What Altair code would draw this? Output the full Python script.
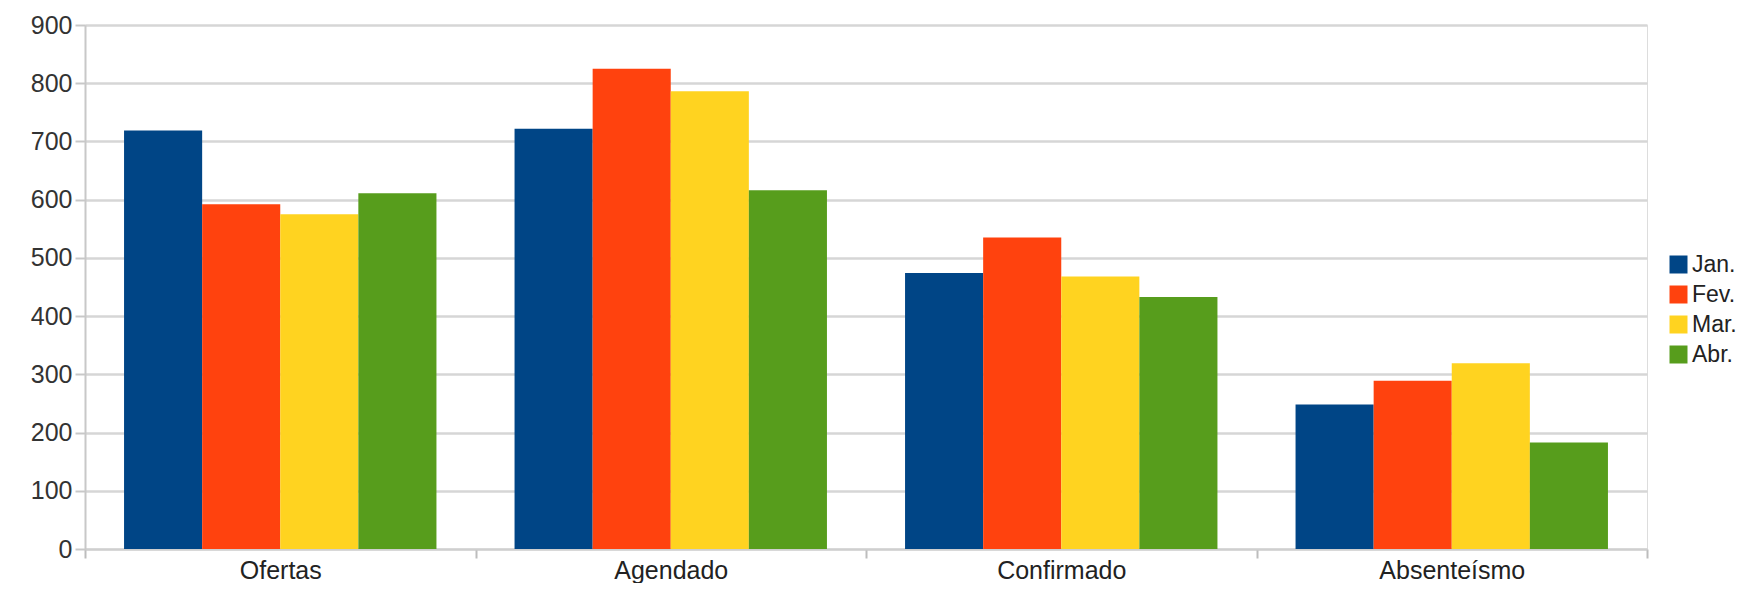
import altair as alt
import pandas as pd

categories = ["Ofertas", "Agendado", "Confirmado", "Absenteísmo"]
months = ["Jan.", "Fev.", "Mar.", "Abr."]
colors = ["#004586", "#ff420e", "#ffd320", "#579d1c"]

jan = [719, 722, 474, 248]
fev = [592, 825, 535, 289]
mar = [575, 786, 468, 319]
abr = [611, 616, 433, 183]

y_ticks = [0, 100, 200, 300, 400, 500, 600, 700, 800, 900]

series = {"Jan.": jan, "Fev.": fev, "Mar.": mar, "Abr.": abr}
rows = []
for m in months:
    for c, v in zip(categories, series[m]):
        rows.append({"categoria": c, "mes": m, "valor": v})
df = pd.DataFrame(rows)

FONT = "Liberation Sans"

chart = alt.Chart(df).mark_bar(strokeWidth=0).encode(
    x=alt.X(
        "categoria:N",
        sort=categories,
        title=None,
        scale=alt.Scale(paddingInner=0, paddingOuter=0),
        axis=alt.Axis(
            labelAngle=0,
            labelFontSize=25,
            labelFont=FONT,
            labelColor="#222222",
            labelPadding=0,
            tickBand="extent",
            tickSize=9,
            tickColor="#bdbdbd",
            tickWidth=2,
            domainColor="#cfcfcf",
            domainWidth=2,
            grid=False,
        ),
    ),
    xOffset=alt.XOffset(
        "mes:N",
        sort=months,
        scale=alt.Scale(paddingInner=0, paddingOuter=0.5),
    ),
    y=alt.Y(
        "valor:Q",
        title=None,
        scale=alt.Scale(domain=[0, 900], nice=False),
        axis=alt.Axis(
            values=y_ticks,
            labelFontSize=25,
            labelFont=FONT,
            labelColor="#333333",
            labelPadding=3,
            tickSize=10,
            tickColor="#c8c8c8",
            tickWidth=2,
            domainColor="#c8c8c8",
            domainWidth=2,
            gridColor="#d6d6d6",
            gridWidth=2.5,
        ),
    ),
    color=alt.Color(
        "mes:N",
        sort=months,
        scale=alt.Scale(domain=months, range=colors),
        legend=alt.Legend(
            title=None,
            orient="none",
            legendX=1582,
            legendY=228,
            padding=0,
            symbolType="square",
            symbolSize=324,
            symbolStrokeWidth=0,
            symbolOpacity=1,
            labelFontSize=23,
            labelFont=FONT,
            labelColor="#222222",
            labelOffset=2,
            rowPadding=6,
        ),
    ),
).properties(
    width=1562,
    height=524,
    padding={"left": 77, "top": 17, "right": 94, "bottom": 34},
    autosize=alt.AutoSizeParams(type="none"),
).configure_view(
    stroke=None
).configure(
    background="white"
)

chart.save("out.html", embed_options={"renderer": "svg", "actions": False})
